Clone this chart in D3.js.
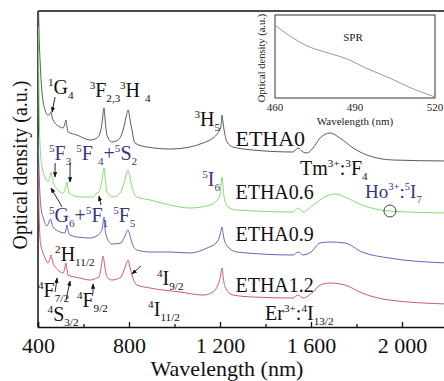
<!doctype html>
<html>
<head>
<meta charset="utf-8">
<title>Optical density</title>
<style>
body { margin:0; background:#fff; }
</style>
</head>
<body>
<svg id="chart" width="444" height="381"></svg>
<script src="https://cdn.jsdelivr.net/npm/d3@7"></script>
<script>
// spectra: [wavelength nm, optical density a.u.]
var etha0 = [[401,340],[404,300],[409,267],[418,234],[431,217],[444,212],[452,213],[457,215],[462,210],[466,207],[497,200],[510,199],[518,203],[523,207],[527,201],[532,195],[571,192],[629,187],[659,189],[673,194],[682,205],[690,219],[696,205],[703,192],[725,185],[752,187],[774,197],[787,210],[796,217],[804,208],[813,197],[826,184],[879,180],[980,178],[1068,180],[1125,184],[1169,189],[1191,194],[1204,200],[1209,212],[1213,205],[1218,197],[1231,185],[1257,180],[1345,177],[1521,175],[1543,179],[1565,175],[1582,174],[1609,179],[1640,189],[1684,194],[1727,189],[1785,179],[1846,172],[1960,167],[2200,166]];
var etha06 = [[401,300],[404,240],[407,195],[412,170],[418,160],[431,150],[444,145],[452,150],[457,155],[462,150],[466,145],[488,137],[510,134],[522,140],[527,145],[531,140],[536,134],[584,130],[642,130],[659,134],[668,135],[680,145],[690,159],[696,148],[703,135],[730,130],[761,134],[778,144],[788,152],[796,157],[804,150],[813,140],[835,130],[893,127],[980,122],[1068,119],[1156,122],[1187,127],[1200,132],[1209,150],[1213,142],[1218,130],[1235,120],[1275,117],[1521,115],[1543,119],[1565,115],[1609,122],[1679,132],[1710,133],[1749,130],[1824,122],[1943,116],[2200,114]];
var etha09 = [[401,190],[404,160],[408,135],[414,118],[422,110],[440,101],[448,105],[455,108],[460,104],[466,100],[497,95],[519,94],[524,99],[528,102],[531,98],[536,93],[571,90],[629,89],[664,92],[682,98],[686,104],[690,110],[694,100],[699,92],[725,83],[765,84],[780,90],[796,97],[805,91],[813,84],[835,77],[892,75],[980,75],[1068,74],[1143,79],[1187,85],[1200,92],[1209,100],[1213,94],[1218,88],[1235,80],[1275,75],[1521,72],[1543,75],[1565,72],[1600,75],[1640,84],[1684,85],[1749,84],[1824,75],[1943,69],[2200,64]];
var etha12 = [[401,160],[404,120],[408,92],[412,82],[418,77],[431,69],[444,64],[452,68],[457,72],[462,68],[466,64],[488,57],[510,54],[518,59],[523,64],[527,58],[532,52],[584,49],[629,47],[659,49],[668,50],[678,60],[686,71],[694,60],[703,50],[725,47],[765,50],[778,57],[788,63],[796,67],[804,60],[813,52],[835,42],[892,39],[1024,35],[1125,32],[1169,35],[1191,42],[1200,48],[1209,59],[1214,50],[1222,40],[1257,32],[1345,30],[1521,29],[1543,32],[1565,29],[1609,35],[1640,42],[1684,44],[1749,42],[1824,34],[1943,27],[2200,23]];
// inset: SPR region
var sprCurve = [[460,73],[465,63],[473,51],[480,45],[488,38],[494,30],[503,20],[511,10],[520,1]];

var xMajor = [400, 800, 1200, 1600, 2000];
var xMajorLabels = ["400", "800", "1 200", "1 600", "2 000"];
var xMinor = [600, 1000, 1400, 1800];
var insetTicks = [460, 490, 520];

var seriesNames = ["ETHA0", "ETHA0.6", "ETHA0.9", "ETHA1.2"];
var seriesColors = ["#5a5a5a", "#86da72", "#6565bb", "#cc5a6c"];
var navy = "#36367e";
var serif = "Liberation Serif";

var svg = d3.select("#chart");
var x = d3.scaleLinear().domain([400, 2200]).range([38, 447.5]);
var y = d3.scaleLinear().domain([0, 316]).range([327, 11]);

svg.append("defs").append("clipPath").attr("id", "plotClip")
  .append("rect").attr("x", 38).attr("y", 11).attr("width", 410).attr("height", 316);

var marker = svg.select("defs").append("marker")
  .attr("id", "arrow").attr("viewBox", "0 0 10 10")
  .attr("refX", 9).attr("refY", 5)
  .attr("markerWidth", 6).attr("markerHeight", 6)
  .attr("orient", "auto-start-reverse");
marker.append("path").attr("d", "M0,1 L10,5 L0,9 Z").attr("fill", "#111");

// frame
svg.append("line").attr("x1", 38).attr("x2", 444).attr("y1", 11).attr("y2", 11)
  .attr("stroke", "#111").attr("stroke-width", 1.5);
svg.append("line").attr("x1", 38).attr("x2", 38).attr("y1", 11).attr("y2", 327)
  .attr("stroke", "#111").attr("stroke-width", 1.5);

// x axis, ticks pointing inward
var xAxis = d3.axisBottom(x).tickValues(xMajor).tickSize(-5).tickPadding(10)
  .tickFormat(function(d, i) { return xMajorLabels[i]; });
var gx = svg.append("g").attr("transform", "translate(0,327)").call(xAxis);
gx.select(".domain").attr("stroke", "#111").attr("stroke-width", 1.5);
gx.selectAll(".tick line").attr("stroke", "#111").attr("stroke-width", 1.3);
gx.selectAll(".tick text").attr("font-family", serif).attr("font-size", 22).attr("fill", "#111");
var gxm = svg.append("g").attr("transform", "translate(0,327)")
  .call(d3.axisBottom(x).tickValues(xMinor).tickSize(-3).tickFormat(""));
gxm.select(".domain").remove();
gxm.selectAll(".tick line").attr("stroke", "#111").attr("stroke-width", 1.3);

svg.append("text").attr("x", 227).attr("y", 376).attr("text-anchor", "middle")
  .attr("font-family", serif).attr("font-size", 22).attr("fill", "#111").text("Wavelength (nm)");
svg.append("text").attr("transform", "translate(27,165) rotate(-90)").attr("text-anchor", "middle")
  .attr("font-family", serif).attr("font-size", 20).attr("fill", "#111").text("Optical density (a.u.)");

// spectra
var line = d3.line().x(function(d) { return x(d[0]); }).y(function(d) { return y(d[1]); })
  .curve(d3.curveMonotoneX);
var plot = svg.append("g").attr("clip-path", "url(#plotClip)");
[etha0, etha06, etha09, etha12].forEach(function(s, i) {
  plot.append("path").attr("d", line(s)).attr("fill", "none")
    .attr("stroke", seriesColors[i]).attr("stroke-width", 1);
});

// text with super/subscripts
function richText(w, v, parts, size, color) {
  var t = svg.append("text").attr("x", x(w)).attr("y", y(v))
    .attr("font-family", serif).attr("font-size", size).attr("fill", color);
  var shift = 0;
  parts.forEach(function(p) {
    var target = p[0] === "sup" ? -0.42 * size : p[0] === "sub" ? 0.25 * size : 0;
    t.append("tspan").attr("dy", target - shift)
      .attr("font-size", p[0] === "n" ? size : size * 0.56)
      .attr("xml:space", "preserve")
      .text(p[1]);
    shift = target;
  });
}

var labels = [
  {w: 444, v: 233, c: "#111", s: 20, p: [["sup","1"],["n","G"],["sub","4"]]},
  {w: 627, v: 230, c: "#111", s: 20, p: [["sup","3"],["n","F"],["sub","2,3"]]},
  {w: 760, v: 230, c: "#111", s: 20, p: [["sup","3"],["n","H "],["sub","4"]]},
  {w: 1088, v: 201, c: "#111", s: 20, p: [["sup","3"],["n","H"],["sub","5"]]},
  {w: 1268, v: 181, c: "#111", s: 22, p: [["n","ETHA0"]]},
  {w: 1552, v: 152, c: "#111", s: 20, p: [["n","Tm"],["sup","3+"],["n",":"],["sup","3"],["n","F"],["sub","4"]]},
  {w: 448, v: 167, c: navy, s: 20, p: [["sup","5"],["n","F"],["sub","3"],["n"," "],["sup","5"],["n","F "],["sub","4"],["n","+"],["sup","5"],["n","S"],["sub","2"]]},
  {w: 1122, v: 141, c: navy, s: 20, p: [["sup","5"],["n","I"],["sub","6"]]},
  {w: 1268, v: 128, c: "#111", s: 20, p: [["n","ETHA0.6"]]},
  {w: 1837, v: 129, c: navy, s: 19, p: [["n","Ho"],["sup","3+"],["n",":"],["sup","5"],["n","I"],["sub","7"]]},
  {w: 448, v: 105, c: navy, s: 20, p: [["sup","5"],["n","G"],["sub","6"],["n","+"],["sup","5"],["n","F"],["sub","1"],["n"," "],["sup","5"],["n","F"],["sub","5"]]},
  {w: 1268, v: 86, c: "#111", s: 20, p: [["n","ETHA0.9"]]},
  {w: 475, v: 66, c: "#111", s: 20, p: [["sup","2"],["n","H"],["sub","11/2"]]},
  {w: 1268, v: 35, c: "#111", s: 20, p: [["n","ETHA1.2"]]},
  {w: 923, v: 42, c: "#111", s: 20, p: [["sup","4"],["n","I"],["sub","9/2"]]},
  {w: 400, v: 30, c: "#111", s: 20, p: [["sup","4"],["n","F"],["sub","7/2"]]},
  {w: 442, v: 6, c: "#111", s: 20, p: [["sup","4"],["n","S"],["sub","3/2"]]},
  {w: 571, v: 20, c: "#111", s: 20, p: [["sup","4"],["n","F"],["sub","9/2"]]},
  {w: 884, v: 11, c: "#111", s: 20, p: [["sup","4"],["n","I"],["sub","11/2"]]},
  {w: 1398, v: 7, c: "#111", s: 20, p: [["n","Er"],["sup","3+"],["n",":"],["sup","4"],["n","I"],["sub","13/2"]]}
];
labels.forEach(function(l) { richText(l.w, l.v, l.p, l.s, l.c); });

// arrows [from, to]
var arrows = [
  [[475,230],[462,215]],
  [[475,164],[475,150]],
  [[541,164],[541,145]],
  [[506,120],[457,139]],
  [[677,122],[668,131]],
  [[475,35],[484,49]],
  [[523,27],[541,46]],
  [[642,34],[642,43]],
  [[853,61],[813,53]]
];
arrows.forEach(function(a) {
  svg.append("line").attr("x1", x(a[0][0])).attr("y1", y(a[0][1]))
    .attr("x2", x(a[1][0])).attr("y2", y(a[1][1]))
    .attr("stroke", "#111").attr("stroke-width", 0.9).attr("marker-end", "url(#arrow)");
});

// circle marking the Ho band
svg.append("circle").attr("cx", x(1947)).attr("cy", y(116)).attr("r", 6)
  .attr("fill", "none").attr("stroke", "#444").attr("stroke-width", 1);

// inset
var ix = d3.scaleLinear().domain([460, 520]).range([275, 435]);
var iy = d3.scaleLinear().domain([0, 83]).range([98, 15]);
var inset = svg.append("g");
inset.append("rect").attr("x", 275).attr("y", 15).attr("width", 160).attr("height", 83)
  .attr("fill", "#fff").attr("stroke", "#333").attr("stroke-width", 1);
inset.selectAll(".itick").data(insetTicks).enter().append("text")
  .attr("x", function(d) { return ix(d); }).attr("y", 111)
  .attr("text-anchor", "middle").attr("font-family", serif).attr("font-size", 11).attr("fill", "#222")
  .text(function(d) { return d; });
inset.append("text").attr("x", 355).attr("y", 125).attr("text-anchor", "middle")
  .attr("font-family", serif).attr("font-size", 11).attr("fill", "#222").text("Wavelength (nm)");
inset.append("text").attr("transform", "translate(265,58) rotate(-90)").attr("text-anchor", "middle")
  .attr("font-family", serif).attr("font-size", 10.5).attr("fill", "#222").text("Optical density (a.u.)");
inset.append("text").attr("x", 353).attr("y", 41).attr("text-anchor", "middle")
  .attr("font-family", serif).attr("font-size", 11).attr("fill", "#222").text("SPR");
inset.append("path").attr("fill", "none").attr("stroke", "#999").attr("stroke-width", 1)
  .attr("d", d3.line().x(function(d) { return ix(d[0]); }).y(function(d) { return iy(d[1]); })
    .curve(d3.curveMonotoneX)(sprCurve));
</script>
</body>
</html>
